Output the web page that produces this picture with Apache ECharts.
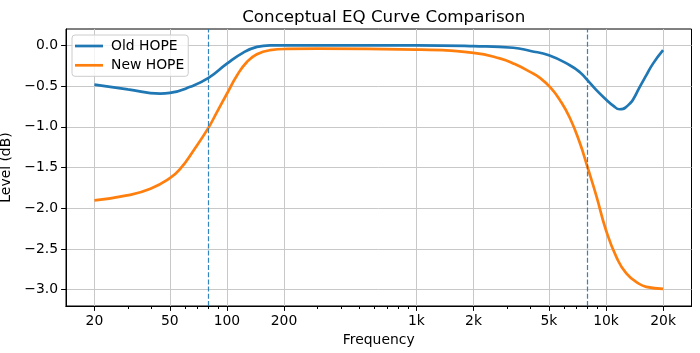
<!DOCTYPE html>
<html>
<head>
<meta charset="utf-8">
<script src="https://cdn.jsdelivr.net/npm/echarts@6/dist/echarts.min.js"></script>
<style>html,body{margin:0;padding:0;background:#fff;}#c{width:700px;height:353px;}</style>
</head>
<body>
<div id="c"></div>
<script>
// ---- data ----
const titleText = 'Conceptual EQ Curve Comparison';
const seriesNames = ['Old HOPE', 'New HOPE'];
const oldFreqs = [20, 30, 44.5, 50, 64, 80, 100, 122, 144, 169, 200, 500, 1000, 2000, 3240, 4000, 5000, 6440, 7280, 8000, 8900, 10000, 10900, 11800, 12300, 12800, 13300, 13900, 15000, 16300, 17700, 20000];
const oldLevels = [-0.483, -0.54, -0.594, -0.585, -0.51, -0.40, -0.225, -0.09, -0.02, 0.0, 0.0, 0.0, 0.0, -0.01, -0.03, -0.07, -0.123, -0.245, -0.33, -0.43, -0.55, -0.665, -0.74, -0.785, -0.78, -0.755, -0.72, -0.665, -0.52, -0.37, -0.225, -0.06];
const newFreqs = [20, 29.7, 39.5, 50, 56.8, 66.7, 80, 88.6, 100, 113, 127.5, 143.9, 169, 208, 300, 1000, 2000, 2750, 3300, 4000, 4480, 5100, 5700, 6440, 7280, 8000, 8900, 10000, 11350, 12800, 15000, 16300, 20000];
const newLevels = [-1.904, -1.843, -1.76, -1.63, -1.515, -1.29, -1.01, -0.82, -0.595, -0.37, -0.205, -0.11, -0.06, -0.045, -0.042, -0.053, -0.094, -0.16, -0.23, -0.33, -0.40, -0.52, -0.67, -0.89, -1.20, -1.50, -1.85, -2.27, -2.60, -2.80, -2.93, -2.965, -2.99];
const markerFreqs = [80, 8000];
const xTickFreqs = [20, 50, 100, 200, 1000, 2000, 5000, 10000, 20000];
const xTickLabels = ['20', '50', '100', '200', '1k', '2k', '5k', '10k', '20k'];
const xMinorFreqs = [30, 40, 60, 70, 80, 90, 300, 400, 500, 600, 700, 800, 900, 3000, 4000, 6000, 7000, 8000, 9000];
const yTicks = [0, -0.5, -1.0, -1.5, -2.0, -2.5, -3.0];
const xRange = [14.16, 28250];
const yRange = [-3.2, 0.2];

// ---- build ----
const L = Math.log10;
const xLabelMap = {};
xTickFreqs.forEach((f, i) => { xLabelMap[L(f).toFixed(6)] = xTickLabels[i]; });
const font = 'DejaVu Sans';
const blue = '#1f77b4', orange = '#ff7f0e';

const chart = echarts.init(document.getElementById('c'), null, {renderer: 'canvas'});
chart.setOption({
  animation: false,
  backgroundColor: '#fff',
  title: {
    text: titleText, left: 378.8, top: 4, textAlign: 'center',
    textStyle: {fontFamily: font, fontSize: 16.7, fontWeight: 'normal', color: '#000'}
  },
  legend: {
    data: seriesNames, orient: 'vertical', left: 72, top: 35,
    icon: 'rect', itemWidth: 28, itemHeight: 2.7, itemGap: 5.3,
    padding: [4, 4, 4, 3],
    backgroundColor: 'rgba(255,255,255,0.8)', borderColor: '#cccccc', borderWidth: 1, borderRadius: 3,
    textStyle: {fontFamily: font, fontSize: 13.9, lineHeight: 14, color: '#000', padding: [0, 0, 0, 3]}
  },
  grid: {left: 66, right: 8.5, top: 29, bottom: 47, containLabel: false, outerBoundsMode: 'none',
    show: true, borderColor: '#000', borderWidth: 1},
  xAxis: [{
    type: 'value', min: L(xRange[0]), max: L(xRange[1]),
    name: 'Frequency', nameLocation: 'middle', nameGap: 23,
    nameTextStyle: {fontFamily: font, fontSize: 13.9, color: '#000'},
    axisLine: {show: true, onZero: false, lineStyle: {color: '#000', width: 1}},
    axisTick: {show: true, length: 4.9, customValues: xTickFreqs.map(L), lineStyle: {color: '#000', width: 1}},
    axisLabel: {fontFamily: font, fontSize: 13.9, color: '#000', margin: 8,
      customValues: xTickFreqs.map(L),
      formatter: v => xLabelMap[v.toFixed(6)] || ''},
    splitLine: {show: true, lineStyle: {color: '#c8c8c8', width: 1}}
  }, {
    type: 'value', min: L(xRange[0]), max: L(xRange[1]), position: 'bottom', offset: 0,
    axisLine: {show: true, onZero: false, lineStyle: {color: '#000', width: 1}},
    axisTick: {show: true, inside: false, length: 3, customValues: xMinorFreqs.map(L), lineStyle: {color: '#000', width: 1}},
    axisLabel: {show: false},
    splitLine: {show: false}
  }],
  yAxis: {
    type: 'value', min: yRange[0], max: yRange[1],
    name: 'Level (dB)', nameLocation: 'middle', nameGap: 44,
    nameTextStyle: {fontFamily: font, fontSize: 13.9, color: '#000'},
    axisLine: {show: true, onZero: false, lineStyle: {color: '#000', width: 1}},
    axisTick: {show: true, length: 4.9, customValues: yTicks, lineStyle: {color: '#000', width: 1}},
    axisLabel: {fontFamily: font, fontSize: 13.9, color: '#000', margin: 8,
      customValues: yTicks,
      formatter: v => (v < 0 ? '\u2212' : '') + Math.abs(v).toFixed(1)},
    splitLine: {show: true, lineStyle: {color: '#c8c8c8', width: 1}}
  },
  series: [{
    name: seriesNames[0], type: 'line', smooth: 0.5, symbol: 'none', xAxisIndex: 0,
    data: oldFreqs.map((f, i) => [L(f), oldLevels[i]]),
    lineStyle: {color: blue, width: 2.7}, itemStyle: {color: blue}, z: 3,
    markLine: {
      silent: true, symbol: ['none', 'none'], label: {show: false},
      lineStyle: {color: blue, type: [5, 2.2], width: 1.2, opacity: 0.9},
      data: markerFreqs.map(f => ({xAxis: L(f)}))
    }
  }, {
    name: seriesNames[1], type: 'line', smooth: 0.5, symbol: 'none', xAxisIndex: 0,
    data: newFreqs.map((f, i) => [L(f), newLevels[i]]),
    lineStyle: {color: orange, width: 2.7}, itemStyle: {color: orange}, z: 3
  }]
});
</script>
</body>
</html>
